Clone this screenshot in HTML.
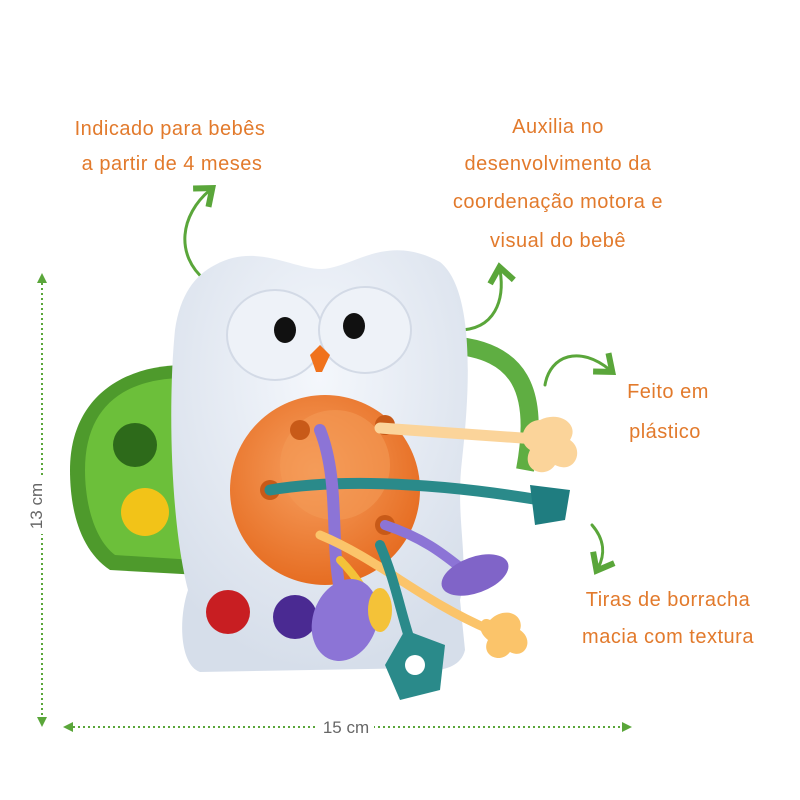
<!DOCTYPE html>
<html><head><meta charset="utf-8"><style>
html,body{margin:0;padding:0;background:#fff;}
svg{display:block}
.t{font-family:"Liberation Sans",sans-serif;fill:#e27a2c;font-size:20px;text-anchor:middle;letter-spacing:0.5px;font-weight:500}
</style></head><body>
<svg width="800" height="800" viewBox="0 0 800 800" xmlns="http://www.w3.org/2000/svg">
<defs>
<marker id="ah" markerWidth="10" markerHeight="10" refX="5" refY="5" orient="auto"><path d="M1,1 L6,5 L1,9" fill="none" stroke="#5aa63a" stroke-width="2"/></marker>
<marker id="dh" markerWidth="5" markerHeight="5" refX="2.5" refY="2.5" orient="auto-start-reverse"><path d="M0,0 L5,2.5 L0,5z" fill="#5aa63a"/></marker>
<radialGradient id="og" cx="45%" cy="40%" r="60%"><stop offset="0" stop-color="#f7a060"/><stop offset="1" stop-color="#e66d22"/></radialGradient>
<radialGradient id="wg" cx="50%" cy="30%" r="70%"><stop offset="0" stop-color="#f4f7fc"/><stop offset="1" stop-color="#d6deea"/></radialGradient>
</defs>
<text class="t" x="170" y="135">Indicado para bebês</text>
<text class="t" x="172" y="170">a partir de 4 meses</text>
<text class="t" x="558" y="133">Auxilia no</text>
<text class="t" x="558" y="170">desenvolvimento da</text>
<text class="t" x="558" y="208">coordenação motora e</text>
<text class="t" x="558" y="247">visual do bebê</text>
<text class="t" x="668" y="398">Feito em</text>
<text class="t" x="665" y="438">plástico</text>
<text class="t" x="668" y="606">Tiras de borracha</text>
<text class="t" x="668" y="643">macia com textura</text>
<g fill="none" stroke="#5aa63a" stroke-width="3" stroke-linecap="round">
<path d="M205,280 C175,255 180,215 210,190" marker-end="url(#ah)"/>
<path d="M458,330 C495,330 505,300 500,270" marker-end="url(#ah)"/>
<path d="M545,385 C550,355 580,345 610,370" marker-end="url(#ah)"/>
<path d="M592,525 C605,540 605,555 598,568" marker-end="url(#ah)"/>
</g>
<g stroke="#5aa63a" stroke-width="2" stroke-dasharray="2,3">
<line x1="42" y1="278" x2="42" y2="722" marker-start="url(#dh)" marker-end="url(#dh)"/>
<line x1="68" y1="727" x2="627" y2="727" marker-start="url(#dh)" marker-end="url(#dh)"/>
</g>
<rect x="30" y="478" width="24" height="56" fill="#fff"/>
<text x="42" y="506" font-family="Liberation Sans,sans-serif" font-size="17" fill="#666" text-anchor="middle" transform="rotate(-90 42 506)">13 cm</text>
<rect x="318" y="716" width="56" height="22" fill="#fff"/>
<text x="346" y="733" font-family="Liberation Sans,sans-serif" font-size="17" fill="#666" text-anchor="middle">15 cm</text>
<path d="M450,345 C520,350 540,390 525,470" fill="none" stroke="#5fae42" stroke-width="18"/>
<path d="M70,470 C70,400 120,365 185,365 L200,575 L110,570 C80,550 70,510 70,470z" fill="#4e9a2c"/>
<path d="M85,470 C85,410 120,380 180,378 L195,560 L115,555 C95,540 85,505 85,470z" fill="#6cbf3a"/>
<circle cx="135" cy="445" r="22" fill="#2d6a1a"/>
<circle cx="145" cy="512" r="24" fill="#f2c318"/>
<path d="M215,265 C260,240 300,275 330,268 C360,262 390,235 440,262 C475,290 470,390 462,460 C455,520 470,560 460,600 L465,650 C460,672 430,672 420,668 L200,672 C180,665 178,620 188,590 C170,520 168,400 175,330 C180,295 195,275 215,265z" fill="url(#wg)"/>
<ellipse cx="275" cy="335" rx="48" ry="45" fill="#eef2f8" stroke="#d3dae6" stroke-width="2"/>
<ellipse cx="365" cy="330" rx="46" ry="43" fill="#eef2f8" stroke="#d3dae6" stroke-width="2"/>
<ellipse cx="285" cy="330" rx="11" ry="13" fill="#111"/>
<ellipse cx="354" cy="326" rx="11" ry="13" fill="#111"/>
<path d="M310,355 L320,345 L330,355 L322,372 L316,372z" fill="#f0721c"/>
<circle cx="228" cy="612" r="22" fill="#c81e22"/>
<circle cx="295" cy="617" r="22" fill="#4a2a92"/>
<circle cx="325" cy="490" r="95" fill="url(#og)"/>
<circle cx="335" cy="465" r="55" fill="#f39a55" opacity="0.6"/>
<circle cx="300" cy="430" r="10" fill="#c85a18"/>
<circle cx="385" cy="425" r="10" fill="#c85a18"/>
<circle cx="270" cy="490" r="10" fill="#c85a18"/>
<circle cx="385" cy="525" r="10" fill="#c85a18"/>
<g fill="none" stroke-linecap="round">
<path d="M380,428 L550,440" stroke="#fbd49a" stroke-width="11"/>
<path d="M270,490 C330,480 420,480 540,500" stroke="#2a8a8a" stroke-width="11"/>
<path d="M320,430 C340,480 330,540 340,590" stroke="#8c74d6" stroke-width="12"/>
<path d="M385,525 C430,540 450,560 470,575" stroke="#8c74d6" stroke-width="10"/>
<path d="M320,535 C380,560 420,600 490,630" stroke="#fbc46a" stroke-width="9"/>
<path d="M380,545 C395,580 400,610 410,640" stroke="#2a8a8a" stroke-width="10"/>
<path d="M340,560 C360,580 370,600 380,620" stroke="#f4c238" stroke-width="8"/>
</g>
<path d="M540,420 C560,410 580,425 570,440 C585,450 575,475 555,465 C545,480 520,470 530,450 C515,440 525,420 540,420z" fill="#fbd49a"/>
<path d="M530,485 L570,490 L565,520 L535,525z" fill="#1f7d80"/>
<path d="M490,620 C505,605 525,615 520,630 C535,640 525,660 510,652 C500,665 480,655 488,640 C475,630 480,615 490,620z" fill="#fbc46a"/>
<ellipse cx="475" cy="575" rx="35" ry="18" fill="#8064c8" transform="rotate(-20 475 575)"/>
<ellipse cx="345" cy="620" rx="32" ry="42" fill="#8c74d6" transform="rotate(20 345 620)"/>
<path d="M405,630 L445,645 L440,690 L400,700 L385,665z" fill="#2a8a8a"/>
<circle cx="415" cy="665" r="10" fill="#fff"/>
<ellipse cx="380" cy="610" rx="12" ry="22" fill="#f4c238"/>
</svg>
</body></html>
